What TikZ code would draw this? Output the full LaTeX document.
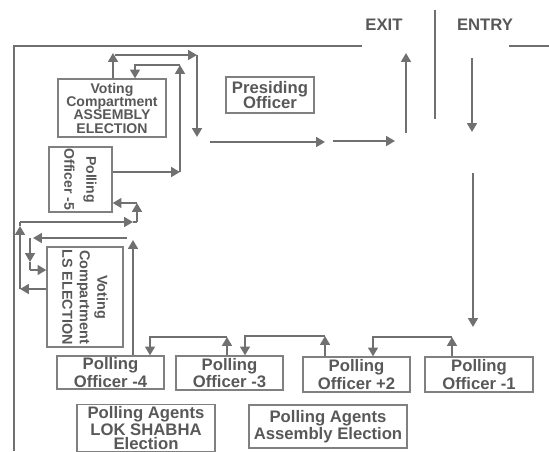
\documentclass[tikz,border=0pt]{standalone}
\usepackage{fontspec}
\setmainfont{Liberation Sans}
\usepackage{tikz}
\usetikzlibrary{arrows.meta}
\definecolor{linegray}{RGB}{112,112,112}
\definecolor{textgray}{RGB}{88,88,88}
\definecolor{boxgray}{RGB}{128,128,128}
\tikzset{
    desk/.style={rectangle, draw=boxgray, line width=0.7pt, text=textgray, align=center, inner sep=0pt, font=\bfseries\fontsize{9.5}{10}\selectfont},
    booth/.style={desk, font=\bfseries\fontsize{8}{7.6}\selectfont},
    agents/.style={desk, font=\bfseries\fontsize{9.5}{8.2}\selectfont},
    doorlabel/.style={text=textgray, font=\bfseries\fontsize{9.5}{10}\selectfont},
    wall/.style={draw=linegray, line width=1pt},
    route/.style={draw=linegray, line width=1.2pt},
    flow/.style={route, -{Triangle[length=5pt,width=5.5pt]}}
}
\begin{document}
\begin{tikzpicture}[x=0.02cm, y=-0.02cm]
    \useasboundingbox (0,0) rectangle (549,451);

    % Walls and doors
    \draw[wall] (14,451) -- (14,46) -- (362,46);
    \draw[wall] (509,46) -- (549,46);
    \draw[wall] (435,10) -- (435,119);
    \node[doorlabel] (exit) at (384,25) {EXIT};
    \node[doorlabel] (entry) at (485,25) {ENTRY};

    % Booths and desks
    \node[booth, minimum width=2.16cm, minimum height=1.16cm] (asm) at (112,108) {Voting\\ Compartment\\ ASSEMBLY\\ ELECTION};
    \node[desk, font=\bfseries\fontsize{8}{12.5}\selectfont, rotate=-90, minimum width=1.3cm, minimum height=1.26cm] (po5) at (80.5,179.5) {Polling\\ Officer -5};
    \node[booth, font=\bfseries\fontsize{8.2}{10}\selectfont, rotate=-90, minimum width=2cm, minimum height=1.52cm] (ls) at (85,297) {Voting\\ Compartment\\ LS ELECTION};
    \node[desk, font=\bfseries\fontsize{9.5}{9}\selectfont, minimum width=1.76cm, minimum height=0.72cm] (presiding) at (270,95) {Presiding\\ Officer};
    \node[desk, minimum width=2.14cm, minimum height=0.66cm] (po4) at (110.5,372.5) {Polling\\ Officer -4};
    \node[desk, minimum width=2.14cm, minimum height=0.68cm] (po3) at (229.5,373) {Polling\\ Officer -3};
    \node[desk, minimum width=2.14cm, minimum height=0.7cm] (po2) at (356.5,374.5) {Polling\\ Officer +2};
    \node[desk, minimum width=2.16cm, minimum height=0.7cm] (po1) at (479,374.5) {Polling\\ Officer -1};
    \node[agents, minimum width=2.76cm, minimum height=0.94cm] (agls) at (146,428) {Polling Agents\\ LOK SHABHA\\ Election};
    \node[agents, minimum width=3.16cm, minimum height=0.86cm] (agasm) at (328,426.5) {Polling Agents\\ Assembly Election};

    % Entry to first officer
    \coordinate (in1) at (472,58);
    \coordinate (in2) at (472,132);
    \coordinate (in3) at (473,173);
    \coordinate (in4) at (473,327);
    \draw[flow] (in1) -- (in2);
    \draw[flow] (in3) -- (in4);

    % Officer to officer
    \coordinate (t1) at (452,337);
    \coordinate (t2) at (373,337);
    \coordinate (t3) at (325,336);
    \coordinate (t4) at (245,336);
    \coordinate (t5) at (227,337);
    \coordinate (t6) at (150,337);
    \draw[flow] (po1.north -| t1) -- (t1);
    \draw[flow] (t1) -- (t2) -- (po2.north -| t2);
    \draw[flow] (po2.north -| t3) -- (t3);
    \draw[flow] (t3) -- (t4) -- (po3.north -| t4);
    \draw[flow] (po3.north -| t5) -- (t5);
    \draw[flow] (t5) -- (t6) -- (po4.north -| t6);

    % Into LS compartment
    \coordinate (u1) at (133,240);
    \coordinate (u2) at (127,238);
    \coordinate (u3) at (33,238);
    \coordinate (u4) at (30,238);
    \coordinate (u5) at (30,262);
    \coordinate (u6) at (30,270);
    \draw[flow] (po4.north -| u1) -- (u1);
    \draw[flow] (u2) -- (u3);
    \draw[flow] (u4) -- (u5);
    \draw[route] (u5) -- (u6);
    \draw[flow] (u6) -- (ls.south |- u6);

    % Out of LS compartment to Officer -5
    \coordinate (v1) at (20,289);
    \coordinate (v2) at (20,226);
    \coordinate (v3) at (20,222);
    \coordinate (v4) at (133,222);
    \coordinate (v5) at (137,222);
    \coordinate (v6) at (137,203);
    \draw[flow] (ls.south |- v1) -- (v1);
    \draw[flow] (v1) -- (v2);
    \draw[route] (v2) -- (v3);
    \draw[flow] (v3) -- (v4);
    \draw[route] (v4) -- (v5);
    \draw[flow] (v5) -- (v6);
    \draw[flow] (v6) -- (po5.north |- v6);

    % Officer -5 to Assembly compartment
    \coordinate (w1) at (180,172);
    \coordinate (w2) at (180,65);
    \coordinate (w3) at (135,65);
    \draw[flow] (po5.north |- w1) -- (w1);
    \draw[flow] (w1) -- (w2);
    \draw[flow] (w2) -- (w3) -- (asm.north -| w3);

    % Assembly compartment to exit
    \coordinate (x1) at (113,53);
    \coordinate (x2) at (115,55);
    \coordinate (x3) at (197,55);
    \coordinate (x4) at (197,137);
    \draw[flow] (asm.north -| x1) -- (x1);
    \draw[flow] (x2) -- (x3);
    \draw[flow] (x3) -- (x4);
    \coordinate (y1) at (210,142);
    \coordinate (y2) at (325,142);
    \coordinate (y3) at (333,141);
    \coordinate (y4) at (395,141);
    \coordinate (y5) at (406,133);
    \coordinate (y6) at (406,53);
    \draw[flow] (y1) -- (y2);
    \draw[flow] (y3) -- (y4);
    \draw[flow] (y5) -- (y6);
\end{tikzpicture}
\end{document}
